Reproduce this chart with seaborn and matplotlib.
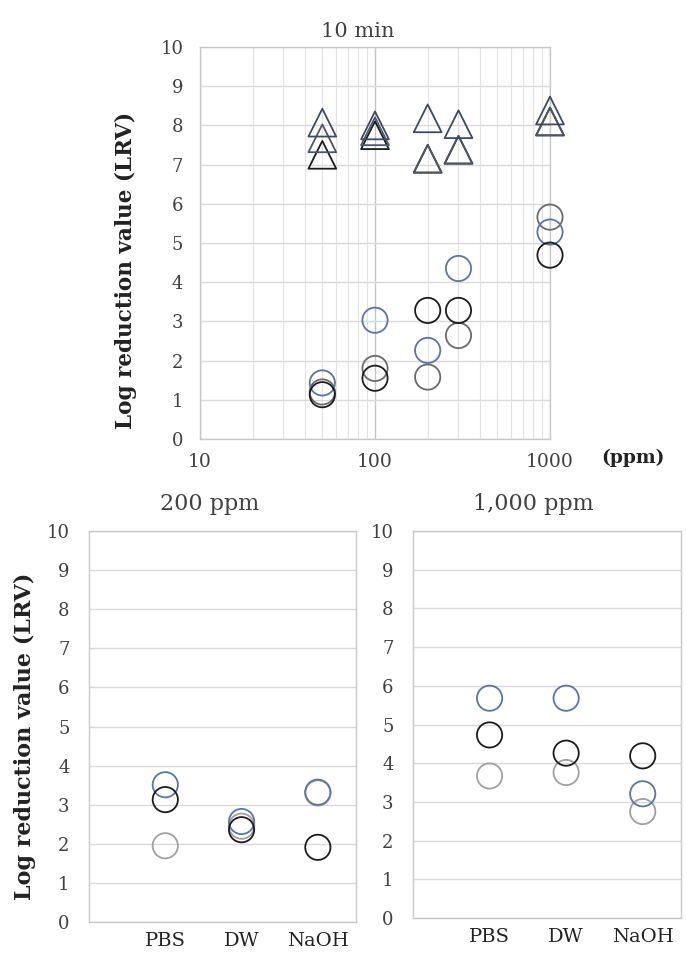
import numpy as np
import pandas as pd
import matplotlib
matplotlib.use("Agg")
import matplotlib.pyplot as plt
import seaborn as sns
from matplotlib.ticker import LogLocator, FixedLocator, NullFormatter

sns.set_theme(style="white")
plt.rcParams['font.family'] = ['DejaVu Serif', 'DejaVu Sans']

# ---------------- data ----------------
conc_ppm = [50, 100, 200, 300, 1000]
# circles (10 min)
circ_black = [1.13, 1.55, 3.28, 3.28, 4.69]
circ_blue = [1.43, 3.03, 2.26, 4.35, 5.28]
circ_gray = [1.20, 1.80, 1.58, 2.64, 5.66]
# triangles (10 min)
tri_navy = [8.07, 8.00, 8.18, 8.03, 8.38]
tri_slate = [7.67, 7.85, 7.15, 7.38, 8.10]
tri_black = [7.25, 7.75, 7.15, 7.38, 8.10]

solutions = ["PBS", "DW", "NaOH"]
sol_pos = [1, 2, 3]
# 200 ppm
p200_blue = [3.51, 2.57, 3.32]
p200_black = [3.13, 2.36, 1.91]
p200_gray = [1.95, 2.45, 3.30]
# 1,000 ppm
p1000_blue = [5.68, 5.68, 3.21]
p1000_black = [4.73, 4.26, 4.19]
p1000_gray = [3.67, 3.76, 2.75]

C_BLACK = "#1c1c1c"
C_BLUE = "#5a74aa"
C_GRAY = "#a0a0a0"
C_NAVY = "#3c4a68"
C_SLATE = "#4e5666"
C_DGRAY = "#6a6a6a"
GRID = "#d9d9d9"
SPINE = "#c8c8c8"
TXT = "#404040"

W, H = 687, 961
fig = plt.figure(figsize=(W / 100, H / 100), dpi=100)

def frac(l, t, r, b):
    return [l / W, 1 - b / H, (r - l) / W, (b - t) / H]

ax_top = fig.add_axes(frac(200, 47, 550, 439))
ax_l = fig.add_axes(frac(89, 531, 356, 922))
ax_r = fig.add_axes(frac(413, 531, 681, 918))

S_CIRC = 330
S_TRI = 400
LW = 1.3

def pts(ax, x, y, color, marker, s):
    df = pd.DataFrame({"x": x, "y": y})
    sns.scatterplot(data=df, x="x", y="y", ax=ax, marker=marker, s=s,
                    facecolor="none", edgecolor=color, linewidth=LW,
                    clip_on=False, zorder=3)

# ---- top panel ----
for vals, col in [(tri_black, C_BLACK), (tri_slate, C_SLATE), (tri_navy, C_NAVY)]:
    pts(ax_top, conc_ppm, vals, col, "^", S_TRI)
for vals, col in [(circ_gray, C_DGRAY), (circ_blue, C_BLUE), (circ_black, C_BLACK)]:
    pts(ax_top, conc_ppm, vals, col, "o", S_CIRC)

ax_top.set_xscale("log")
ax_top.set_xlim(10, 1000)
ax_top.set_ylim(0, 10)
ax_top.set_yticks(range(0, 11))
ax_top.xaxis.set_major_locator(FixedLocator([10, 100, 1000]))
ax_top.xaxis.set_minor_locator(LogLocator(base=10, subs=np.arange(2, 10)))
ax_top.xaxis.set_minor_formatter(NullFormatter())
ax_top.set_xticklabels(["10", "100", "1000"])
ax_top.grid(True, which="major", axis="both", color=GRID, lw=1.0)
ax_top.grid(True, which="major", axis="x", color="#c4c4c4", lw=1.0)
ax_top.grid(True, which="minor", axis="x", color="#e2e2e2", lw=0.8)
ax_top.set_title("10 min", x=0.45, pad=7, fontsize=15, color=TXT)
ax_top.tick_params(axis="y", pad=12)
ax_top.tick_params(axis="x", pad=10)
fig.text(633 / W, 1 - 458 / H, "(ppm)", ha="center", va="center",
         fontsize=13.5, fontweight="bold", color="#222222")
fig.text(126 / W, 1 - 270 / H, "Log reduction value (LRV)", rotation=90,
         ha="center", va="center", fontsize=15.5, fontweight="bold",
         color="#222222")

# ---- bottom panels ----
for ax, data, title, tx in [
    (ax_l, [(p200_gray, C_GRAY), (p200_blue, C_BLUE), (p200_black, C_BLACK)], "200 ppm", 0.45),
    (ax_r, [(p1000_gray, C_GRAY), (p1000_blue, C_BLUE), (p1000_black, C_BLACK)], "1,000 ppm", 0.45),
]:
    for vals, col in data:
        pts(ax, sol_pos, vals, col, "o", S_CIRC)
    ax.set_xlim(0, 3.5)
    ax.set_ylim(0, 10)
    ax.set_yticks(range(0, 11))
    ax.set_xticks(sol_pos)
    ax.set_xticklabels(solutions)
    ax.grid(True, axis="y", color=GRID, lw=1.0)
    ax.grid(False, axis="x")
    ax.set_title(title, x=tx, pad=15, fontsize=16, color=TXT)
    ax.tick_params(axis="y", pad=14)
    ax.tick_params(axis="x", pad=7)

fig.text(25 / W, 1 - 736 / H, "Log reduction value (LRV)", rotation=90,
         ha="center", va="center", fontsize=16, fontweight="bold",
         color="#222222")

for ax in (ax_top, ax_l, ax_r):
    ax.set_xlabel("")
    ax.set_ylabel("")
    for sp in ax.spines.values():
        sp.set_visible(True)
        sp.set_color(SPINE)
        sp.set_linewidth(1.0)
    ax.tick_params(length=0, labelsize=13, colors=TXT)
    ax.set_facecolor("white")
ax_top.tick_params(axis="x", labelsize=13.5)
for ax in (ax_l, ax_r):
    ax.tick_params(axis="x", labelsize=14, colors="#222222")

fig.savefig("out.png", dpi=100)
